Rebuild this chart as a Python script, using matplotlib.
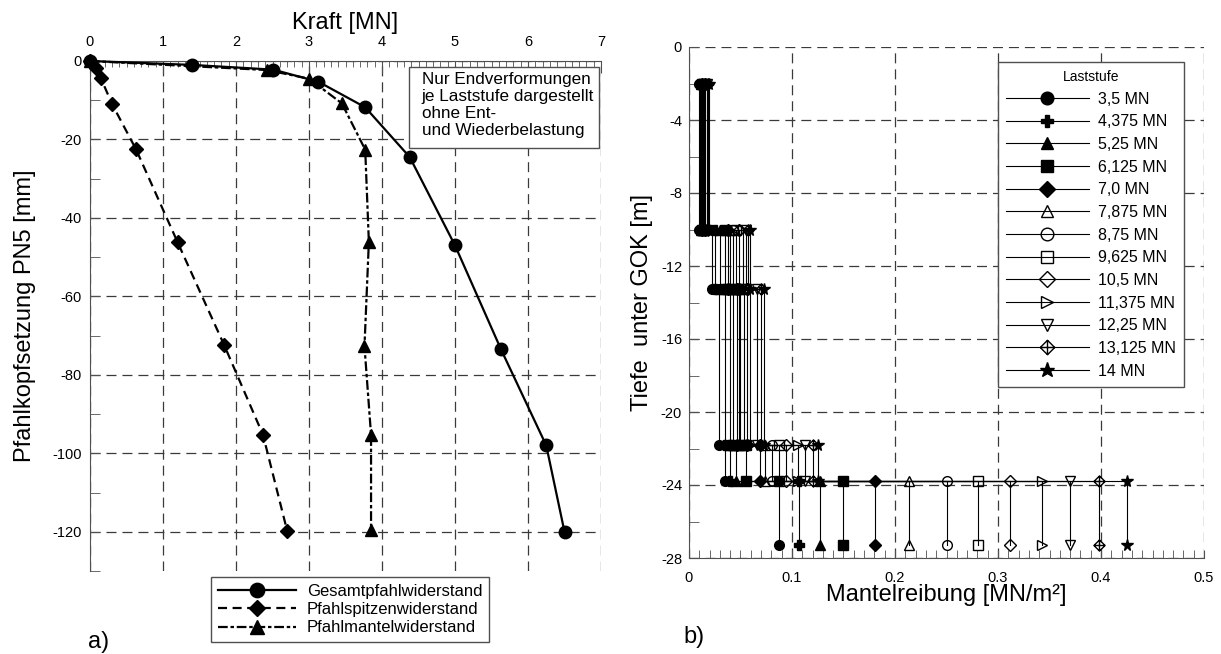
import numpy as np
import matplotlib.pyplot as plt
from matplotlib.path import Path
from matplotlib.ticker import MultipleLocator
import matplotlib.patches as mpatches

plt.rcParams['font.family'] = ['Liberation Sans', 'DejaVu Sans']
plt.rcParams['axes.unicode_minus'] = False
plt.rcParams['lines.scale_dashes'] = False

# --- a) Last-Setzungs-Linie ---
kraft_gesamt = [0, 1.40, 2.51, 3.13, 3.77, 4.38, 5.00, 5.63, 6.25, 6.50]
setz_gesamt = [0, -1.0, -2.2, -5.3, -11.8, -24.5, -47.0, -73.5, -98.0, -120.0]

kraft_spitze = [0, 0.08, 0.15, 0.30, 0.63, 1.20, 1.84, 2.37, 2.70]
setz_spitze = [0, -1.9, -4.4, -10.9, -22.5, -46.2, -72.5, -95.3, -119.7]

kraft_mantel = [0, 2.42, 3.00, 3.45, 3.77, 3.82, 3.76, 3.85, 3.85]
setz_mantel = [0, -2.3, -4.5, -10.8, -22.6, -46.1, -72.7, -95.3, -119.5]

# --- b) Mantelreibung je Schicht ---
laststufen = ['3,5 MN', '4,375 MN', '5,25 MN', '6,125 MN', '7,0 MN', '7,875 MN',
              '8,75 MN', '9,625 MN', '10,5 MN', '11,375 MN', '12,25 MN',
              '13,125 MN', '14 MN']
schicht_grenzen = [-2, -10, -13.25, -21.8, -23.8, -27.3]
reibung_s1 = [0.010, 0.011, 0.012, 0.013, 0.013, 0.014, 0.015, 0.015, 0.016, 0.017, 0.017, 0.018, 0.019]
reibung_s2 = [0.022, 0.025, 0.030, 0.035, 0.038, 0.040, 0.043, 0.046, 0.049, 0.052, 0.055, 0.057, 0.059]
reibung_s3 = [0.029, 0.035, 0.040, 0.043, 0.047, 0.049, 0.050, 0.053, 0.056, 0.059, 0.066, 0.070, 0.073]
reibung_s4 = [0.035, 0.040, 0.046, 0.055, 0.069, 0.074, 0.081, 0.087, 0.094, 0.106, 0.113, 0.120, 0.125]
reibung_s5 = [0.087, 0.107, 0.127, 0.150, 0.181, 0.214, 0.250, 0.281, 0.312, 0.343, 0.370, 0.398, 0.425]

# crossed diamond marker
P = Path
raute_kreuz = Path([(0, 1), (1, 0), (0, -1), (-1, 0), (0, 1), (0, 1), (0, -1), (-1, 0), (1, 0)],
                   [P.MOVETO, P.LINETO, P.LINETO, P.LINETO, P.CLOSEPOLY,
                    P.MOVETO, P.LINETO, P.MOVETO, P.LINETO])
markers = ['o', 'P', '^', 's', 'D', '^', 'o', 's', 'D', '>', 'v', raute_kreuz, '*']
msizes = [7, 6.5, 6.5, 6.5, 6, 7, 7, 6.5, 6, 7, 7, 8, 8.5]
gefuellt = [True, True, True, True, True, False, False, False, False, False, False, False, True]

W, H = 1221, 654
fig = plt.figure(figsize=(W / 100, H / 100), dpi=100)
ax1 = fig.add_axes([90 / W, 1 - 571 / H, 511 / W, 510 / H])
ax2 = fig.add_axes([689 / W, 1 - 558 / H, 515 / W, 511 / H])

spine_col = '#505050'
grid_kw = dict(color='#3a3a3a', lw=0.9, ls=(0, (7.2, 4.3)))

# ---------------- left ----------------
ax1.plot(kraft_gesamt, setz_gesamt, color='k', lw=1.6, marker='o', ms=9,
         label='Gesamtpfahlwiderstand', clip_on=False, zorder=5)
ax1.plot(kraft_spitze, setz_spitze, color='k', lw=1.6, ls=(0, (6.5, 4)), marker='D', ms=7,
         label='Pfahlspitzenwiderstand', clip_on=False, zorder=4)
ax1.plot(kraft_mantel, setz_mantel, color='k', lw=1.6, ls=(0, (7, 2, 2.5, 2)), marker='^', ms=8.5,
         label='Pfahlmantelwiderstand', clip_on=False, zorder=4)

ax1.set_xlim(0, 7)
ax1.set_ylim(-130, 0)
ax1.xaxis.tick_top()
ax1.xaxis.set_label_position('top')
ax1.set_xticks(range(8))
ax1.xaxis.set_minor_locator(MultipleLocator(0.1))
ax1.set_yticks(np.arange(0, -121, -20))
ax1.yaxis.set_minor_locator(MultipleLocator(10))
for s in ['bottom', 'right']:
    ax1.spines[s].set_visible(False)
for s in ['top', 'left']:
    ax1.spines[s].set_color(spine_col)
ax1.tick_params(which='both', direction='in', color=spine_col, labelsize=10.5)
ax1.tick_params(axis='x', which='major', length=8.5, pad=9)
ax1.tick_params(axis='x', which='minor', length=4.5)
ax1.tick_params(axis='y', which='both', length=7, pad=6)
ax1.grid(True, which='major', **grid_kw)
ax1.set_axisbelow(True)
ax1.set_xlabel('Kraft [MN]', fontsize=17)
ax1.xaxis.set_label_coords(0.5, 1.062)
ax1.set_ylabel('Pfahlkopfsetzung PN5 [mm]', fontsize=17)
ax1.yaxis.set_label_coords(-0.105, 0.5)

box = mpatches.Rectangle((0.6243, 0.830), 0.3718, 0.1588, transform=ax1.transAxes,
                         fc='white', ec=spine_col, lw=1, zorder=6)
ax1.add_patch(box)
ax1.text(0.649, 0.978, 'Nur Endverformungen\nje Laststufe dargestellt\nohne Ent-\nund Wiederbelastung',
         transform=ax1.transAxes, ha='left', va='top', fontsize=12.3, linespacing=1.15, zorder=7)

leg1 = ax1.legend(loc='upper left', bbox_to_anchor=(211 / W, 1 - 577 / H),
                  bbox_transform=fig.transFigure, borderaxespad=0, fontsize=12,
                  handlelength=4.7, handletextpad=0.65, labelspacing=0.2, borderpad=0.4,
                  markerscale=1.15, fancybox=False, framealpha=1, edgecolor=spine_col)
leg1.get_frame().set_linewidth(1)

fig.text(88 / W, 1 - 648 / H, 'a)', fontsize=17, va='baseline')

# ---------------- right ----------------
for i in range(len(laststufen)):
    f = [reibung_s1[i], reibung_s2[i], reibung_s3[i], reibung_s4[i], reibung_s5[i]]
    xs = np.repeat(f, 2)
    ys = [schicht_grenzen[0]] + list(np.repeat(schicht_grenzen[1:-1], 2)) + [schicht_grenzen[-1]]
    ax2.plot(xs, ys, color='k', lw=0.8, marker=markers[i], ms=msizes[i],
             mfc='k' if gefuellt[i] else 'none', mec='k', mew=1.0,
             label=laststufen[i], zorder=3 + i * 0.01)

ax2.set_xlim(0, 0.5)
ax2.set_ylim(-28, 0)
ax2.set_xticks(np.arange(0, 0.51, 0.1))
ax2.set_xticklabels(['0', '0.1', '0.2', '0.3', '0.4', '0.5'])
ax2.xaxis.set_minor_locator(MultipleLocator(0.01))
ax2.set_yticks(np.arange(0, -29, -4))
ax2.yaxis.set_minor_locator(MultipleLocator(2))
for s in ['top', 'right']:
    ax2.spines[s].set_visible(False)
for s in ['bottom', 'left']:
    ax2.spines[s].set_color(spine_col)
ax2.tick_params(which='both', direction='in', color=spine_col, labelsize=10.5)
ax2.tick_params(axis='x', which='major', length=6, pad=9)
ax2.tick_params(axis='x', which='minor', length=5.5)
ax2.tick_params(axis='y', which='both', length=7, pad=5)
ax2.grid(True, which='major', **grid_kw)
ax2.set_axisbelow(True)
ax2.set_xlabel('Mantelreibung [MN/m²]', fontsize=17)
ax2.xaxis.set_label_coords(0.5, -0.05)
ax2.set_ylabel('Tiefe  unter GOK [m]', fontsize=17)
ax2.yaxis.set_label_coords(-0.07, 0.5)

leg2 = ax2.legend(loc='upper right', bbox_to_anchor=(1184 / W, 1 - 62 / H),
                  bbox_transform=fig.transFigure, borderaxespad=0, fontsize=11.5,
                  title='Laststufe', title_fontsize=10, handlelength=5.2, handletextpad=0.6,
                  labelspacing=0.48, borderpad=0.5, markerscale=1.3, fancybox=False,
                  framealpha=1, edgecolor=spine_col)
leg2.get_frame().set_linewidth(1)

fig.text(683 / W, 1 - 643 / H, 'b)', fontsize=17, va='baseline')

fig.savefig('out.png', dpi=100)
